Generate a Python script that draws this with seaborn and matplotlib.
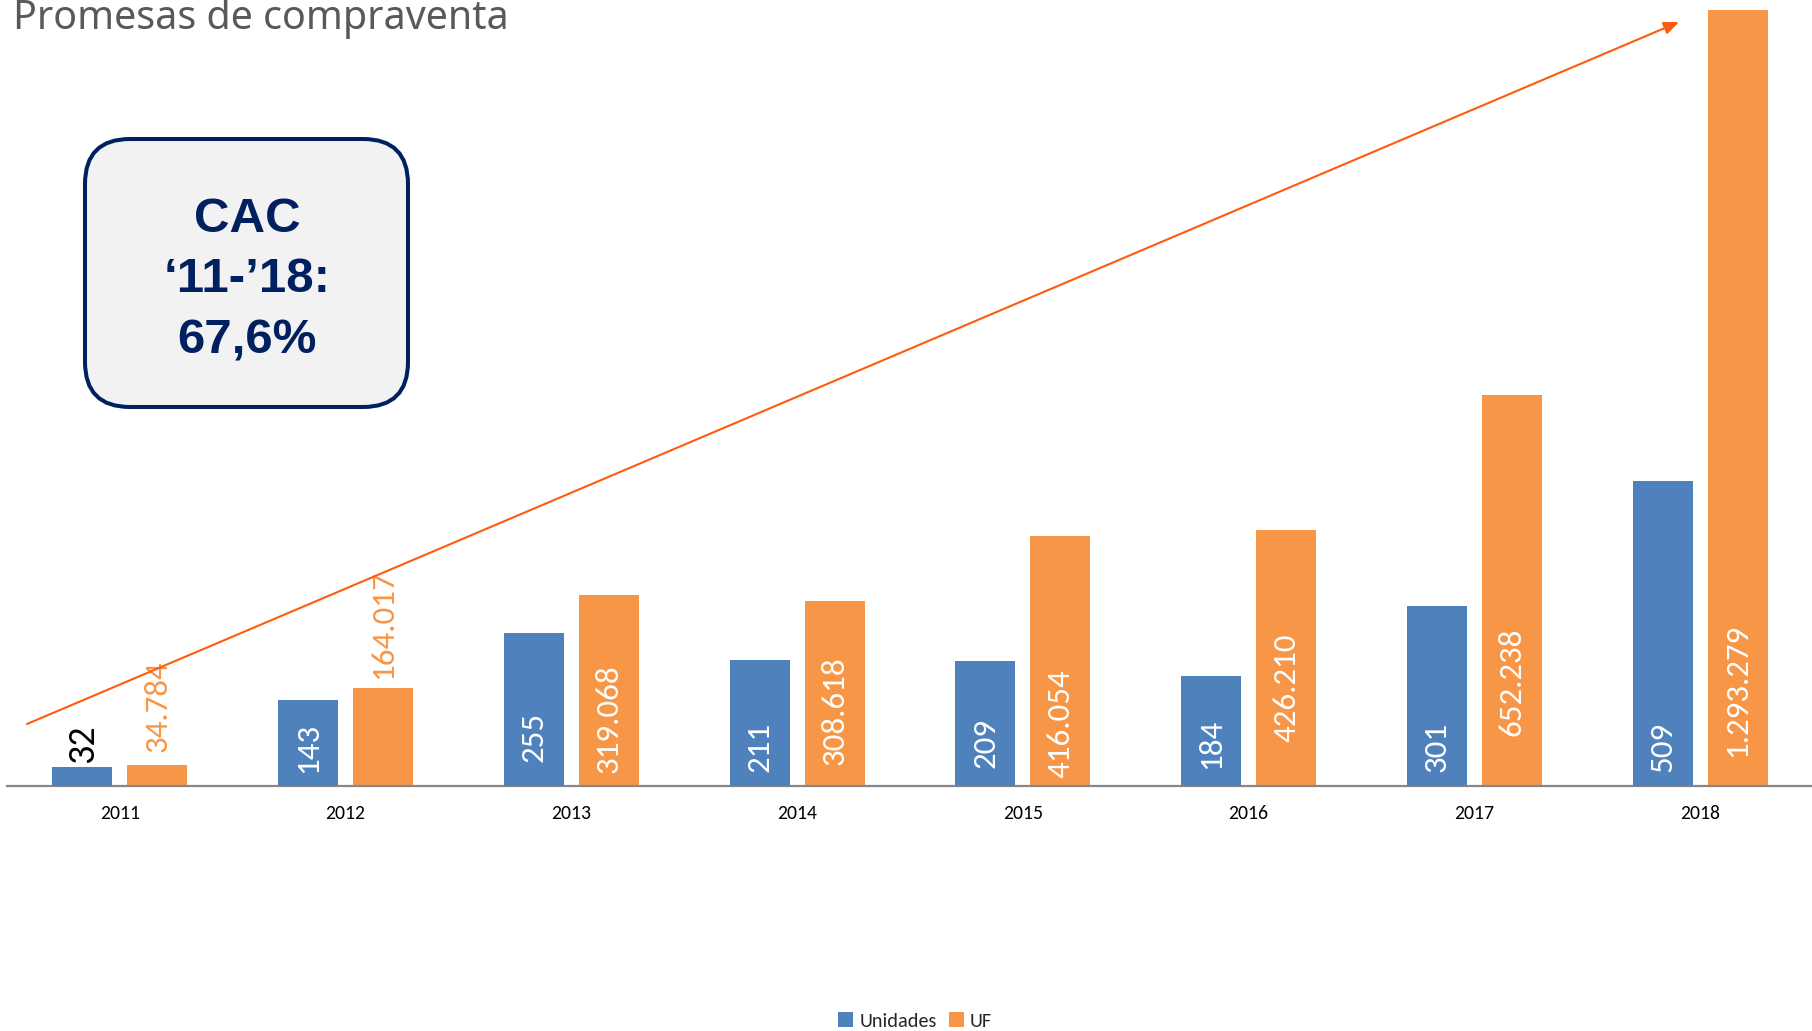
import numpy as np
import pandas as pd
import matplotlib
matplotlib.use("Agg")
import matplotlib.pyplot as plt
import seaborn as sns
from matplotlib import font_manager as fm
from matplotlib.patches import FancyBboxPatch, Patch
from matplotlib.transforms import IdentityTransform

# ---------------- data ----------------
years = ["2011", "2012", "2013", "2014", "2015", "2016", "2017", "2018"]
unidades = [32, 143, 255, 211, 209, 184, 301, 509]
uf = [34784, 164017, 319068, 308618, 416054, 426210, 652238, 1293279]
unidades_labels = ["32", "143", "255", "211", "209", "184", "301", "509"]
uf_labels = ["34.784", "164.017", "319.068", "308.618", "416.054",
             "426.210", "652.238", "1.293.279"]
series_names = ["Unidades", "UF"]
title_text = "Promesas de compraventa"
cac_lines = ["CAC", "\u201811-\u201918:", "67,6%"]

# ---------------- styles ----------------
BLUE = "#4F81BD"
ORANGE = "#F79646"
ARROW = "#FE5B0C"
NAVY = "#002060"
unit_label_outside = [True, False, False, False, False, False, False, False]
unit_label_offset_px = [4, 13, 24, 14, 18, 17, 14, 14]
unit_label_scale = [1.15, 1, 1, 1, 1, 1, 1, 1]
uf_label_outside = [True, True, False, False, False, False, False, False]
uf_label_offset_px = [13, 9, 13, 21, 8, 44, 50, 29]
uf_label_scale = [1, 1, 1, 1, 1, 1, 1, 1]


def has_font(name):
    try:
        fm.findfont(fm.FontProperties(family=name), fallback_to_default=False)
        return True
    except Exception:
        return False


if has_font("Carlito"):
    body_font, lab_fs, tick_fs, leg_fs = "Carlito", 23.7, 14.2, 14.5
elif has_font("Liberation Sans Narrow"):
    body_font, lab_fs, tick_fs, leg_fs = "Liberation Sans Narrow", 26.3, 15.8, 16
else:
    body_font, lab_fs, tick_fs, leg_fs = "Lato", 21.0, 12.4, 13

sns.set_style("white")
plt.rcParams["font.family"] = [body_font, "DejaVu Sans"]

W, H = 1812, 1031
fig = plt.figure(figsize=(W / 100, H / 100), dpi=100)
fig.patch.set_facecolor("white")

ax = fig.add_axes([7 / W, 245 / H, 1806 / W, 776 / H])
ax2 = ax.twinx()

df_uf = pd.DataFrame({"year": years, "value": uf, "serie": "UF"})
df_un = pd.DataFrame({"year": years, "value": unidades, "serie": "Unidades"})
pal = {"Unidades": BLUE, "UF": ORANGE}

sns.barplot(data=df_uf, x="year", y="value", hue="serie", hue_order=series_names,
            order=years, palette=pal, width=0.664, gap=0.2, saturation=1,
            dodge=True, errorbar=None, linewidth=0, legend=False, ax=ax)
uf_bars = [p for p in ax.patches]
sns.barplot(data=df_un, x="year", y="value", hue="serie", hue_order=series_names,
            order=years, palette=pal, width=0.664, gap=0.2, saturation=1,
            dodge=True, errorbar=None, linewidth=0, legend=False, ax=ax2)
un_bars = [p for p in ax2.patches]

ax.set_xlim(-0.5, len(years) - 0.5)
ax.set_ylim(0, 1293279)
ax2.set_ylim(0, 1295)

for a in (ax, ax2):
    a.set_xlabel("")
    a.set_ylabel("")
    a.set_yticks([])
    a.grid(False)
    for s in a.spines.values():
        s.set_visible(False)
ax.spines["bottom"].set_visible(True)
ax.spines["bottom"].set_color("#878787")
ax.spines["bottom"].set_linewidth(1.6)
ax.patch.set_visible(False)
ax.tick_params(axis="x", length=0, pad=14, labelsize=tick_fs, labelcolor="#000000")

# ---------------- data labels (drawn on the top axes) ----------------
def add_labels(src_ax, bars, values, labels, outside, offsets, scales,
               inside_col, out_col):
    for bar, v, lab, out, off, sc in zip(bars, values, labels, outside,
                                         offsets, scales):
        xc = bar.get_x() + bar.get_width() / 2
        y0 = v if out else 0
        ax2.annotate(lab, xy=(xc, y0), xycoords=src_ax.transData,
                     xytext=(0, off * 0.72), textcoords="offset points",
                     rotation=90, ha="center", va="bottom",
                     fontsize=lab_fs * sc, color=out_col if out else inside_col,
                     annotation_clip=False, zorder=5)

add_labels(ax, uf_bars, uf, uf_labels, uf_label_outside,
           uf_label_offset_px, uf_label_scale, "white", ORANGE)
add_labels(ax2, un_bars, unidades, unidades_labels, unit_label_outside,
           unit_label_offset_px, unit_label_scale, "white", "#000000")

# ---------------- trend arrow ----------------
ax2.annotate("", xy=(1679, H - 22), xycoords="figure pixels",
             xytext=(27, H - 724), textcoords="figure pixels",
             arrowprops=dict(arrowstyle="-|>,head_length=0.9,head_width=0.38",
                             color=ARROW, lw=1.5, shrinkA=0, shrinkB=0),
             annotation_clip=False, zorder=10)

# ---------------- CAC box ----------------
box = FancyBboxPatch((85, H - 407), 323, 268,
                     boxstyle="round,pad=0,rounding_size=45",
                     transform=IdentityTransform(), facecolor="#F2F2F2",
                     edgecolor=NAVY, linewidth=2.9, zorder=3)
fig.add_artist(box)
for line, yc in zip(cac_lines, [220, 280, 341]):
    fig.text(247 / W, 1 - yc / H, line, ha="center", va="center",
             fontsize=35.5, fontweight="bold", color=NAVY,
             family=["Liberation Sans", "DejaVu Sans"], zorder=4)

# ---------------- title ----------------
fig.text(13 / W, 1 - 29 / H, title_text, ha="left", va="baseline",
         fontsize=28.4, color="#595959", family=["Noto Sans", "DejaVu Sans"])

# ---------------- legend ----------------
handles = [Patch(facecolor=BLUE, edgecolor="none"),
           Patch(facecolor=ORANGE, edgecolor="none")]
fig.legend(handles, series_names, loc="center", bbox_to_anchor=(915 / W, 1 - 1021 / H),
           ncol=2, frameon=False, fontsize=leg_fs, handlelength=0.75,
           handleheight=0.75, handletextpad=0.3, columnspacing=0.6)

fig.savefig("out.png", dpi=100, facecolor="white")
